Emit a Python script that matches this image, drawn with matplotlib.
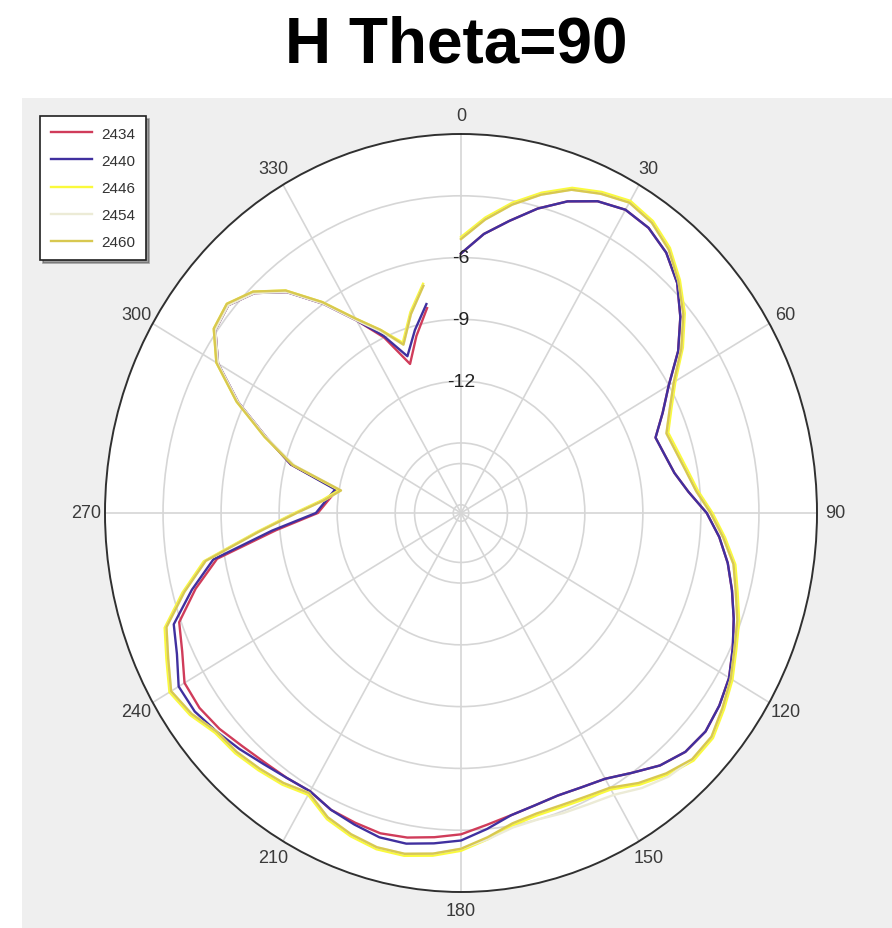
import matplotlib
matplotlib.use('Agg')
import matplotlib.pyplot as plt
import numpy as np

# measurement angles (deg, clockwise from top)
angles = list(range(0, 355, 5))

freq_2434 = [-5.8, -4.8, -4.0, -3.1, -2.3, -1.7, -1.4, -1.5, -1.9, -2.6,
             -3.6, -4.7, -6.0, -6.9, -7.7, -7.5, -7.2, -6.6, -5.7, -5.0,
             -4.4, -3.9, -3.4, -2.9, -2.4, -2.1, -1.9, -2.0, -2.4, -3.0,
             -3.5, -3.7, -3.8, -3.7, -3.5, -3.2, -2.8, -2.6, -2.4, -2.3,
             -2.4, -2.5, -2.8, -2.7, -2.6, -2.4, -2.1, -1.9, -1.9, -2.5,
             -2.9, -4.2, -5.6, -8.8, -11.0, -11.5, -11.9, -9.3, -7.7, -5.7,
             -3.9, -2.9, -2.7, -3.3, -4.4, -6.0, -7.6, -9.0, -10.7, -9.5,
             -8.3]

freq_2440 = [-5.8, -4.8, -4.0, -3.1, -2.3, -1.7, -1.4, -1.5, -1.9, -2.6,
             -3.6, -4.7, -6.0, -6.9, -7.7, -7.5, -7.2, -6.6, -5.7, -5.0,
             -4.4, -3.9, -3.4, -2.9, -2.4, -2.1, -1.9, -2.0, -2.4, -3.0,
             -3.5, -3.7, -3.8, -3.7, -3.5, -3.0, -2.5, -2.3, -2.1, -2.1,
             -2.3, -2.5, -2.8, -2.7, -2.5, -2.2, -1.9, -1.6, -1.55, -2.2,
             -2.6, -4.0, -5.4, -8.6, -10.9, -11.4, -11.8, -9.3, -7.7, -5.7,
             -3.9, -2.9, -2.7, -3.3, -4.4, -6.0, -7.6, -8.9, -10.3, -9.2,
             -8.1]

freq_2446 = [-5.0, -4.0, -3.1, -2.3, -1.6, -1.2, -0.9, -1.1, -1.6, -2.4,
             -3.3, -4.4, -5.6, -6.4, -7.0, -6.8, -6.5, -6.1, -5.4, -4.7,
             -4.0, -3.6, -3.1, -2.7, -2.2, -1.8, -1.4, -1.4, -1.8, -2.3,
             -2.9, -3.1, -3.2, -3.2, -3.0, -2.5, -2.0, -1.7, -1.5, -1.5,
             -1.7, -2.0, -2.6, -2.3, -2.1, -1.9, -1.8, -1.3, -1.0, -1.6,
             -2.1, -3.5, -4.9, -7.8, -9.8, -11.2, -12.0, -9.4, -7.6, -5.6,
             -3.8, -2.8, -2.6, -3.2, -4.3, -5.9, -7.5, -8.6, -9.6, -8.3,
             -7.1]

freq_2454 = [-5.1, -4.1, -3.2, -2.4, -1.7, -1.3, -1.0, -1.2, -1.7, -2.5,
             -3.4, -4.5, -5.7, -6.5, -7.1, -6.9, -6.6, -6.2, -5.5, -4.8,
             -4.1, -3.7, -3.2, -2.8, -2.3, -1.9, -1.5, -1.5, -1.7, -2.1,
             -2.6, -2.8, -2.9, -3.0, -2.9, -2.5, -2.1, -1.8, -1.6, -1.6,
             -1.8, -2.1, -2.7, -2.4, -2.2, -2.0, -1.9, -1.4, -1.1, -1.7,
             -2.2, -3.6, -5.0, -7.9, -9.9, -11.3, -12.1, -9.5, -7.7, -5.7,
             -3.9, -2.9, -2.7, -3.3, -4.4, -6.0, -7.6, -8.7, -9.7, -8.4,
             -7.2]

freq_2460 = [-5.1, -4.1, -3.2, -2.4, -1.7, -1.3, -1.0, -1.2, -1.7, -2.5,
             -3.4, -4.5, -5.7, -6.5, -7.1, -6.9, -6.6, -6.2, -5.5, -4.8,
             -4.1, -3.7, -3.2, -2.8, -2.3, -1.9, -1.5, -1.5, -1.9, -2.4,
             -3.0, -3.2, -3.3, -3.3, -3.1, -2.6, -2.1, -1.8, -1.6, -1.6,
             -1.8, -2.1, -2.7, -2.4, -2.2, -2.0, -1.9, -1.4, -1.1, -1.7,
             -2.2, -3.6, -5.0, -7.9, -9.9, -11.3, -12.1, -9.4, -7.6, -5.6,
             -3.8, -2.8, -2.6, -3.2, -4.3, -5.9, -7.5, -8.6, -9.7, -8.4,
             -7.2]

series = [('2434', freq_2434, '#d03c5a'),
          ('2440', freq_2440, '#40309f'),
          ('2446', freq_2446, '#fafa3c'),
          ('2454', freq_2454, '#ecebd6'),
          ('2460', freq_2460, '#d8c850')]

ring_values = [-18, -16, -15, -12, -9, -6, -3]
ring_labels = ['-12', '-9', '-6']
theta_ticks = list(range(0, 360, 30))

fig = plt.figure(figsize=(8.92, 9.29), dpi=100)
fig.patch.set_facecolor('white')

# grey panel behind the polar chart
panel = plt.Rectangle((22 / 892, 0), 1 - 22 / 892, (929 - 99) / 929,
                      transform=fig.transFigure, facecolor='#efefef',
                      edgecolor='none', zorder=-10)
fig.patches.append(panel)

fig.text(0.511, 0.951, 'H Theta=90', ha='center', va='center',
         fontsize=46, fontweight='bold', family='Liberation Sans')

ax = fig.add_axes([105 / 892, 36 / 929, 712 / 892, 758 / 929], projection='polar')
ax.set_aspect('auto')
ax.set_facecolor('white')
ax.set_theta_zero_location('N')
ax.set_theta_direction(-1)
ax.set_ylim(-18.4, 0)

ax.set_thetagrids(theta_ticks, [str(t) for t in theta_ticks],
                  fontsize=13, color='#3a3a3a', family='Liberation Sans')
ax.tick_params(axis='x', pad=3)
ax.set_rgrids(ring_values, [''] * len(ring_values), angle=0)
ax.grid(True, color='#d6d6d6', linewidth=1.2)
ax.spines['polar'].set_color('#303030')
ax.spines['polar'].set_linewidth(1.4)

for lab in ring_labels:
    ax.text(0, float(lab), lab, ha='center', va='center', fontsize=14,
            color='#222222', family='Liberation Sans', zorder=5)

for name, vals, col in series:
    th = np.deg2rad(angles)
    ax.plot(th, vals, color=col, linewidth=1.7, label=name, zorder=3)

lgnd = fig.legend(loc='upper left', bbox_to_anchor=(40 / 892, 1 - 117 / 929),
                  borderaxespad=0, frameon=True, fancybox=False, shadow=True,
                  edgecolor='#202020', framealpha=1, handlelength=2.7,
                  labelspacing=0.86, borderpad=0.7, handletextpad=0.6,
                  labelcolor='#333333',
                  prop={'family': 'Liberation Sans', 'size': 11})
lgnd.get_frame().set_linewidth(1.2)

fig.savefig('out.png', dpi=100)
